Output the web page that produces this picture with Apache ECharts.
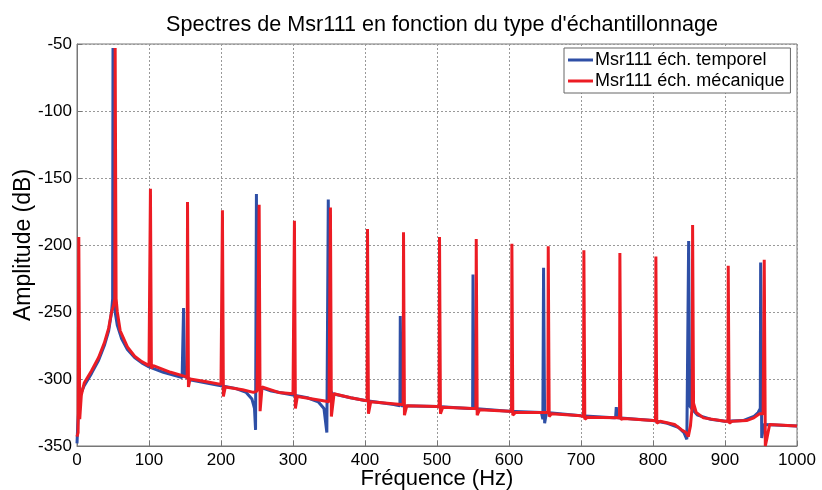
<!DOCTYPE html>
<html>
<head>
<meta charset="utf-8">
<script src="https://cdn.jsdelivr.net/npm/echarts@6/dist/echarts.min.js"></script>
<style>
  html, body { margin: 0; padding: 0; background: #fff; }
  #chart { width: 822px; height: 490px; }
</style>
</head>
<body>
<div id="chart"></div>
<script>
// spectre, échantillonnage temporel (bleu)
const blueFreq = [0, 1, 3, 6, 10, 20, 30, 38, 44, 48, 49.5, 50, 50.8, 51.5, 53, 56, 62, 70, 80, 90, 100, 120, 140, 146,
  147.5, 148, 148.8, 149.5, 160, 180, 200, 220, 235, 243, 246.5, 248, 248.8, 249.2, 250, 250.5, 254, 270, 300, 320, 335,
  343, 347, 348.5, 349, 350, 350.5, 355, 380, 400, 440, 448.5, 449, 450, 450.5, 500, 545, 549.5, 550, 551, 551.5, 600,
  645, 647, 648, 649, 649.5, 652, 700, 745, 748, 749, 750, 751, 800, 820, 835, 843, 847, 849, 849.5, 850.5, 851, 855,
  862, 880, 900, 925, 940, 946, 949, 949.5, 950.5, 951, 952, 954, 1000];
const blueAmp = [-348, -335, -318, -310, -305, -296, -286, -275, -264, -250, -240, -53, -53, -240, -250, -260, -270, -278, -284, -288, -291, -295, -298, -299,
  -300, -247, -247, -298, -301, -303, -305, -307, -310, -315, -322, -338, -338, -162, -162, -305, -306, -309, -312, -314, -317,
  -322, -340, -341, -166, -166, -308, -311, -314, -316, -319, -320, -253, -253, -320, -320.5, -322, -322, -222, -222, -322, -324,
  -325, -330, -217, -217, -333, -325, -327.5, -329, -329, -321, -321, -329, -331, -333, -336, -340, -345, -345, -197, -197, -320, -323,
  -327, -330, -331.5, -331, -328, -325, -322, -213, -213, -344, -344, -334, -335];

// spectre, échantillonnage mécanique (rouge)
const redFreq = [0, 1.5, 2.5, 3.2, 3.8, 6, 10, 20, 30, 38, 44, 48, 51, 52.5, 53, 53.8, 54.3, 56, 60, 70, 80, 90, 100,
  101.5, 102, 102.8, 103.3, 106, 130, 150, 153, 153.5, 154.3, 154.8, 157, 180, 200, 201.5, 202, 202.8, 203.3, 206, 230, 245,
  250, 252.5, 253, 253.8, 254.3, 257, 280, 300, 301.5, 302, 302.8, 303.3, 306, 340, 350, 351.5, 352, 352.8, 353.3, 357, 380,
  400, 403, 403.5, 404.3, 404.8, 408, 450, 453, 453.5, 454.3, 454.8, 458, 500, 503, 503.5, 504.3, 504.8, 508, 550, 554, 554.5,
  555.3, 555.8, 559, 600, 603.5, 604, 604.8, 605.3, 609, 650, 654, 654.5, 655.3, 655.8, 659, 700, 703.5, 704, 704.8, 705.3,
  709, 750, 753.5, 754, 754.8, 755.3, 760, 800, 803.5, 804, 804.8, 805.3, 810, 830, 840, 846, 849, 852, 854.5, 855, 855.8,
  856.3, 860, 870, 900, 904, 904.5, 905.3, 905.8, 910, 930, 940, 948, 953, 954.5, 955.3, 956, 958, 962, 1000];
const redAmp = [-343, -340, -194, -194, -330, -312, -303, -294, -284, -273, -262, -250, -245, -240, -53, -53, -240, -250, -264, -276, -283, -287, -290,
  -290, -158, -158, -292, -290, -295, -298, -299, -168, -168, -306, -300, -302, -304, -305, -174, -174, -313, -306, -308, -310,
  -309, -309, -170, -170, -324, -306, -310, -311, -312, -182, -182, -322, -313, -316, -317, -317, -172, -172, -328, -311, -314,
  -316, -316, -188, -188, -326, -317, -319, -319, -190.5, -190.5, -327, -320, -320.5, -321, -194, -194, -326, -321, -322, -322, -195.5,
  -195.5, -327, -323, -324, -324, -199, -199, -327, -325, -325, -325, -201, -201, -328, -326, -327.5, -328, -204, -204, -330,
  -328.5, -329, -329, -206, -206, -330, -329.5, -331, -331, -208.5, -208.5, -333, -331.5, -334, -338, -340, -343, -335, -320, -185, -185,
  -318, -325, -329, -331.5, -331.5, -215.4, -215.4, -333, -331.5, -331, -329, -326, -326, -211, -211, -350, -345, -334, -335];

const xTicks = [0, 100, 200, 300, 400, 500, 600, 700, 800, 900, 1000];
const yTicks = [-350, -300, -250, -200, -150, -100, -50];

const seriesNames = ['Msr111 éch. temporel', 'Msr111 éch. mécanique'];
const seriesColors = ['#2e4fa6', '#ec1c24'];

function pairs(xs, ys) {
  return xs.map((x, i) => [x, ys[i]]);
}

const chart = echarts.init(document.getElementById('chart'), null, { renderer: 'canvas' });
const font = '"Liberation Sans", Arial, sans-serif';

chart.setOption({
  animation: false,
  backgroundColor: '#fff',
  textStyle: { fontFamily: font },
  title: {
    text: "Spectres de Msr111 en fonction du type d'échantillonnage",
    left: 437,
    textAlign: 'center',
    top: 9,
    textStyle: { fontSize: 21.6, fontWeight: 'normal', color: '#000', fontFamily: font }
  },
  grid: {
    left: 77, right: 25, top: 44, bottom: 44,
    outerBoundsMode: 'none',
    containLabel: false,
    show: true, borderColor: '#777', borderWidth: 1
  },
  legend: {
    left: 564, top: 48,
    orient: 'vertical',
    backgroundColor: '#fff',
    borderColor: '#666', borderWidth: 1,
    padding: [3, 6, 3, 4],
    itemGap: 3,
    itemWidth: 25, itemHeight: 3,
    icon: 'rect',
    textStyle: { fontSize: 18, color: '#000', fontFamily: font, padding: [0, 0, 0, -3] },
    data: seriesNames
  },
  xAxis: {
    type: 'value',
    min: xTicks[0], max: xTicks[xTicks.length - 1], interval: 100,
    name: 'Fréquence (Hz)',
    nameLocation: 'middle',
    nameGap: 22,
    nameMoveOverlap: false,
    nameTextStyle: { fontSize: 22, color: '#000', fontFamily: font },
    axisLine: { lineStyle: { color: '#777' } },
    axisTick: { inside: true, length: 5, lineStyle: { color: '#777' } },
    axisLabel: { fontSize: 17, color: '#000', margin: 6, fontFamily: font, formatter: v => String(v) },
    splitLine: { show: true, lineStyle: { color: '#999', type: [2, 2], width: 1 } }
  },
  yAxis: {
    type: 'value',
    min: yTicks[0], max: yTicks[yTicks.length - 1], interval: 50,
    name: 'Amplitude (dB)',
    nameLocation: 'middle',
    nameRotate: 90,
    nameGap: 42,
    nameMoveOverlap: false,
    nameTextStyle: { fontSize: 23, color: '#000', fontFamily: font },
    axisLine: { show: true, lineStyle: { color: '#777' } },
    axisTick: { show: true, inside: true, length: 5, lineStyle: { color: '#777' } },
    axisLabel: { fontSize: 17, color: '#000', margin: 5, fontFamily: font },
    splitLine: { show: true, lineStyle: { color: '#999', type: [2, 2], width: 1 } }
  },
  series: [
    {
      name: seriesNames[0],
      type: 'line',
      data: pairs(blueFreq, blueAmp),
      symbol: 'none',
      color: seriesColors[0],
      lineStyle: { width: 3, color: seriesColors[0] },
      z: 2
    },
    {
      name: seriesNames[1],
      type: 'line',
      data: pairs(redFreq, redAmp),
      symbol: 'none',
      color: seriesColors[1],
      lineStyle: { width: 3, color: seriesColors[1] },
      z: 3
    }
  ]
});
</script>
</body>
</html>
